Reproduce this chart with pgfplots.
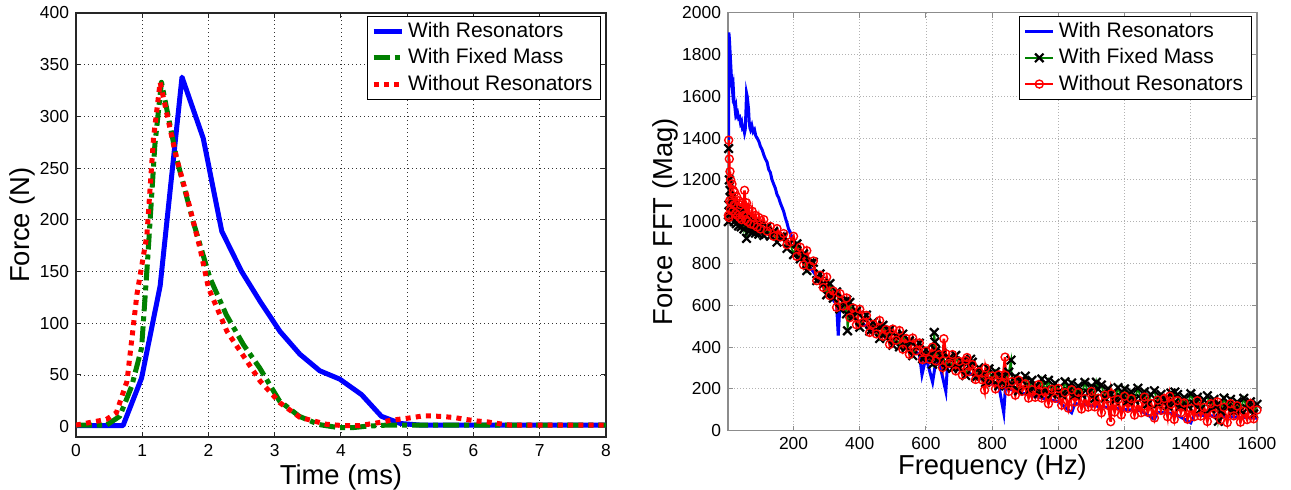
\documentclass[border=0pt]{standalone}
\usepackage{pgfplots}
\pgfplotsset{compat=1.18}
\usepackage{fontspec}
\setmainfont{Liberation Sans}
\definecolor{mblue}{RGB}{0,0,255}
\definecolor{mgreen}{RGB}{0,128,0}
\definecolor{mred}{RGB}{255,0,0}
\begin{document}
\begin{tikzpicture}
\useasboundingbox (0,0) rectangle (645.5pt,245pt);
\pgfplotsset{
  common/.style={
    scale only axis,
    anchor=south west,
    tick align=inside,
    major tick length=2.5pt,
    xmajorgrids, ymajorgrids,
    scaled ticks=false,
    /pgf/number format/assume math mode=true,
    /pgf/number format/1000 sep={},
    tick label style={font=\fontsize{8.7}{10}\selectfont},
    label style={font=\fontsize{13.7}{16}\selectfont},
    legend cell align=left,
  }
}
% ---------------- left ----------------
\begin{axis}[common,
  at={(38pt,26.5pt)}, width=265pt, height=212pt,
  xmin=0, xmax=8, ymin=-10, ymax=400,
  xtick={0,1,...,8}, ytick={0,50,...,400},
  axis line style={black!85, line width=0.6pt},
  major tick style={black!85, line width=0.5pt},
  major grid style={black!80, line width=0.4pt, dash pattern=on 0.5pt off 1.5pt},
  xlabel={Time (ms)}, ylabel={Force (N)},
  xlabel style={at={(axis description cs:0.5,-0.095)}, anchor=center},
  ylabel style={at={(axis description cs:-0.101,0.5)}, anchor=center},
  legend image code/.code={\draw[#1] (0pt,0pt) -- (14pt,0pt);},
  legend style={at={(axis description cs:0.9906,0.993)}, anchor=north east,
    draw=black, line width=0.5pt, fill=white,
    font=\fontsize{10.5}{12}\selectfont, inner xsep=2pt, inner ysep=1pt},
]
\addplot[mblue, line width=2.5pt, line join=round] coordinates {
(0,1) (0.71,1) (0.99,47) (1.27,136) (1.6,338) (1.92,279) (2.2,189) (2.5,150)
(2.78,121) (3.08,92) (3.38,70) (3.68,54) (3.98,46) (4.31,31) (4.61,10) (4.9,3)
(5.2,1.5) (8,1.5)};
\addlegendentry{With Resonators}
\addplot[mgreen, line width=2.5pt, line join=round, dash pattern=on 8pt off 2.5pt on 2.5pt off 2.5pt] coordinates {
(0,1.5) (0.46,1.5) (0.66,10) (0.84,39) (0.99,76) (1.08,160) (1.19,272) (1.29,333)
(1.52,259) (1.77,198) (2.02,144) (2.27,108) (2.53,79) (2.77,57) (3.07,25) (3.37,10)
(3.67,2) (3.97,-1) (4.17,-1) (4.4,0.5) (4.7,1.5) (8,1.5)};
\addlegendentry{With Fixed Mass}
\addplot[mred, line width=2.5pt, line join=round, dash pattern=on 2.5pt off 2.6pt] coordinates {
(0,1.5) (0.46,7) (0.61,13.5) (0.77,44) (0.92,128) (1.07,185) (1.17,279) (1.27,333)
(1.42,288) (1.52,259) (1.67,224) (1.87,173) (2.0,134) (2.28,92) (2.51,70) (2.78,44)
(3.08,23) (3.38,9) (3.78,2.3) (4.03,1) (4.28,1) (4.58,4) (4.74,6) (5.07,8.7)
(5.23,10.3) (5.39,10.3) (5.57,9.6) (5.72,8.7) (5.88,7) (6.05,5.5) (6.21,4.6)
(6.37,3) (6.55,1.5) (8,1.5)};
\addlegendentry{Without Resonators}
\end{axis}
% ---------------- right ----------------
\begin{axis}[common,
  at={(364pt,29.65pt)}, width=264.5pt, height=209pt,
  xmin=2, xmax=1600, ymin=0, ymax=2000,
  xtick={200,400,...,1600}, ytick={0,200,...,2000},
  axis line style={black!45, line width=0.6pt},
  major tick style={black!45, line width=0.5pt},
  major grid style={black!30, line width=0.4pt, dash pattern=on 0.5pt off 1pt},
  xlabel={Frequency (Hz)}, ylabel={Force FFT (Mag)},
  xlabel style={at={(axis description cs:0.5,-0.087)}, anchor=center},
  ylabel style={at={(axis description cs:-0.119,0.5)}, anchor=center},
  legend image code/.code={\draw[mark repeat=2,mark phase=2,#1] plot coordinates {(0pt,0pt) (7pt,0pt) (14pt,0pt)};},
  legend style={at={(axis description cs:0.990,0.992)}, anchor=north east,
    draw=black, line width=0.5pt, fill=white,
    font=\fontsize{10.5}{12}\selectfont, inner xsep=2pt, inner ysep=1pt},
]
\addplot[mblue, line width=1.5pt] coordinates {
(3,1000) (4,1390) (4.5,1905) (6,1880) (8,1820) (10,1760) (12,1700) (14,1660) (16,1620)
(18,1640) (20,1580) (22,1560) (24,1530) (26,1545) (28,1510) (31,1520) (34,1495)
(37,1500) (40,1470) (43,1480) (46,1445) (49,1450) (52,1425) (54,1440) (56,1520)
(58,1615) (60,1600) (62,1570) (64,1540) (66,1480) (68,1450) (70,1440) (74,1460)
(78,1430) (82,1440) (86,1410) (90,1400) (95,1385) (100,1360) (105,1345) (110,1320)
(115,1300) (120,1285) (125,1250) (130,1235) (135,1200) (140,1180) (145,1160)
(150,1130) (155,1115) (160,1090) (165,1070) (170,1050) (175,1020) (180,995)
(185,965) (190,950) (195,925) (200,915) (205,900) (210,880) (215,860) (220,845)
(230,818) (240,800) (250,780) (260,760) (270,738) (280,715) (290,692) (300,670)
(310,648) (320,625) (330,605) (335,455) (340,598) (350,585) (360,570) (370,557)
(380,544) (390,532) (400,520) (420,500) (440,480) (460,462) (480,446) (500,430)
(520,414) (540,398) (560,382) (580,368) (588,268) (600,352) (620,232) (630,334)
(640,328) (660,188) (665,315) (680,304) (700,292) (720,280) (740,268) (760,254)
(780,240) (800,226) (820,215) (835,85) (840,205) (860,195) (880,185) (900,176)
(920,168) (940,160) (960,152) (980,146) (1000,140) (1040,86) (1050,130) (1100,120)
(1150,111) (1200,102) (1250,95) (1290,55) (1300,88) (1350,82) (1400,38) (1410,76)
(1450,72) (1500,68) (1550,64) (1600,60)};
\addlegendentry{With Resonators}
\addplot[mgreen, line width=0.9pt, mark=x, mark size=3pt, mark options={black, line width=1.1pt}] coordinates {
(3,1000) (4,1350) (5,1080) (6,1200) (7,1050) (8,1150) (10,1040) (12,1110) (15,1020)
(18,1080) (21,1000) (24,1060) (27,990) (30,1050) (34,980) (38,1040) (42,975)
(46,1020) (50,965) (54,1010) (58,920) (62,1000) (66,955) (70,995) (75,950) (80,990)
(85,945) (90,985) (95,940) (100,975) (110,934) (120,976) (130,931) (140,953)
(150,902) (160,926) (170,931) (180,872) (190,896) (200,842) (210,894) (220,822)
(230,846) (240,766) (250,802) (260,806) (270,718) (280,750) (290,702) (300,650)
(310,704) (320,634) (330,664) (340,582) (350,616) (360,559) (361,625) (363,478)
(370,614) (380,545) (390,572) (400,495) (410,538) (420,553) (430,476) (440,519)
(450,482) (460,441) (470,504) (480,443) (490,482) (500,409) (510,453) (520,401)
(530,462) (540,398) (550,430) (560,359) (570,403) (580,419) (590,344) (600,388)
(610,355) (620,318) (625,470) (627,425) (630,384) (640,327) (650,370) (660,301)
(670,347) (680,298) (690,360) (700,299) (710,333) (720,264) (730,310) (735,342)
(740,328) (750,255) (760,301) (770,267) (780,230) (790,296) (800,238) (810,282)
(820,215) (830,263) (840,216) (850,280) (857,338) (860,221) (870,258) (880,191)
(890,240) (900,261) (910,191) (920,241) (930,211) (940,177) (950,247) (960,194)
(970,241) (980,176) (990,227) (1000,182) (1010,173) (1020,234) (1030,187)
(1040,228) (1050,169) (1060,213) (1070,173) (1080,231) (1090,180) (1100,213)
(1110,155) (1115,232) (1120,199) (1130,219) (1140,157) (1150,201) (1160,175)
(1170,145) (1180,206) (1190,159) (1200,200) (1210,142) (1220,186) (1230,146)
(1240,203) (1250,153) (1260,186) (1270,128) (1280,172) (1290,191) (1300,130)
(1310,174) (1320,148) (1330,118) (1340,180) (1350,133) (1352,185) (1360,173)
(1370,115) (1380,159) (1390,119) (1400,177) (1410,127) (1420,160) (1430,103)
(1440,147) (1450,167) (1460,105) (1470,150) (1480,124) (1483,45) (1490,94)
(1500,156) (1510,110) (1520,150) (1530,93) (1540,137) (1550,97) (1560,155)
(1570,105) (1580,138) (1590,81) (1600,126)};
\addlegendentry{With Fixed Mass}
\addplot[mred, line width=1.3pt, mark=o, mark size=2pt, mark options={mred, line width=0.7pt}] coordinates {
(3,1030) (4,1390) (5,1020) (6,1300) (7,1100) (8,1240) (9,1060) (10,1200) (12,1090)
(14,1180) (16,1050) (18,1150) (20,1080) (22,1140) (25,1040) (28,1120) (31,1030)
(34,1100) (37,1020) (40,1080) (43,1010) (46,1090) (49,1030) (52,1150) (55,1010)
(58,1090) (61,1000) (65,1060) (70,990) (75,1050) (80,985) (85,1030) (90,975)
(95,1020) (100,965) (110,1010) (120,955) (130,977) (140,930) (150,967) (160,927)
(170,943) (180,890) (190,903) (200,930) (210,834) (220,878) (230,793) (240,861)
(250,787) (260,812) (270,718) (280,744) (290,685) (300,735) (310,646) (320,668)
(330,590) (340,656) (350,596) (360,635) (370,541) (380,587) (390,507) (400,581)
(410,517) (420,552) (430,470) (440,509) (450,463) (460,527) (470,452) (480,484)
(490,413) (500,486) (510,433) (520,479) (530,390) (540,441) (550,365) (560,443)
(570,382) (580,420) (590,340) (600,381) (610,342) (620,400) (630,334) (640,364)
(650,302) (654,440) (660,368) (670,322) (680,364) (690,286) (700,332) (710,266)
(720,336) (724,350) (730,282) (740,316) (750,245) (760,282) (770,243) (777,194)
(780,300) (790,233) (800,262) (810,200) (820,267) (830,222) (839,352) (840,265)
(850,188) (860,235) (870,170) (880,241) (890,188) (900,224) (910,156) (920,196)
(930,160) (940,220) (950,156) (960,188) (970,129) (980,198) (990,155) (1000,202)
(1010,122) (1020,182) (1030,108) (1040,196) (1050,137) (1060,183) (1070,104)
(1080,154) (1090,113) (1100,188) (1110,114) (1120,155) (1130,86) (1140,170)
(1150,121) (1158,43) (1160,177) (1170,89) (1180,149) (1190,76) (1200,165)
(1210,107) (1220,153) (1230,75) (1240,126) (1250,86) (1260,161) (1270,88)
(1280,130) (1290,61) (1300,146) (1310,97) (1320,154) (1330,67) (1336,165)
(1340,127) (1350,54) (1360,144) (1370,86) (1380,133) (1390,55) (1400,107)
(1410,67) (1420,143) (1430,70) (1440,112) (1450,44) (1460,129) (1470,80)
(1480,138) (1490,51) (1500,112) (1510,39) (1520,129) (1530,71) (1540,119)
(1550,41) (1560,93) (1570,53) (1580,129) (1590,57) (1600,99)};
\addlegendentry{Without Resonators}
\end{axis}
\end{tikzpicture}
\end{document}
